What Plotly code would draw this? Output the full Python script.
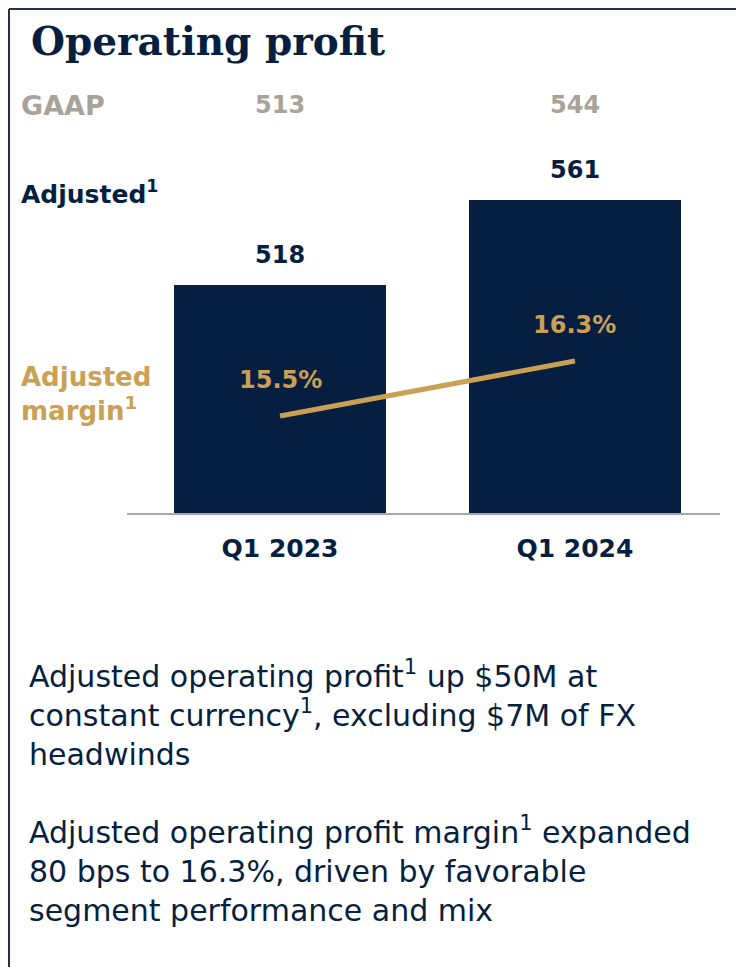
import plotly.graph_objects as go

W, H = 736, 967

categories = ["Q1 2023", "Q1 2024"]
adjusted_op_profit = [518, 561]
gaap_op_profit = [513, 544]
adjusted_margin = [15.5, 16.3]

NAVY = "#061f41"
GOLD = "#c9a054"
GRAY = "#a8a399"
AXIS_GRAY = "#a6a6a6"
BODY_FONT = "DejaVu Sans"

def py(p):
    return 1 - p / H

def px(p):
    return p / W

fig = go.Figure()
fig.add_trace(go.Bar(
    x=categories, y=adjusted_op_profit, marker_color=NAVY, width=0.72,
    marker_line_width=0, yaxis="y", showlegend=False, hoverinfo="skip"))
fig.add_trace(go.Scatter(
    x=categories, y=adjusted_margin, mode="lines", yaxis="y2",
    line=dict(color=GOLD, width=5), showlegend=False, hoverinfo="skip"))

ann = []
for c, v in zip(categories, adjusted_op_profit):
    ann.append(dict(x=c, y=v, xref="x", yref="y", text=f"<b>{v}</b>", showarrow=False,
                    yshift=30, yanchor="middle", font=dict(size=24, color=NAVY, family=BODY_FONT)))
for c, v in zip(categories, gaap_op_profit):
    ann.append(dict(x=c, y=py(105), xref="x", yref="paper", text=f"<b>{v}</b>", showarrow=False,
                    yanchor="middle", font=dict(size=24, color=GRAY, family=BODY_FONT)))
for c, v in zip(categories, adjusted_margin):
    ann.append(dict(x=c, y=v, xref="x", yref="y2", text=f"<b>{v}%</b>", showarrow=False,
                    yshift=36, yanchor="middle", font=dict(size=24, color=GOLD, family=BODY_FONT)))

ann.append(dict(x=px(29), y=py(41), xref="paper", yref="paper", xanchor="left", yanchor="middle",
                text="<b>Operating profit</b>", showarrow=False,
                font=dict(size=39, color=NAVY, family="DejaVu Serif")))
ann.append(dict(x=px(19), y=py(105), xref="paper", yref="paper", xanchor="left", yanchor="middle",
                text="<b>GAAP</b>", showarrow=False, font=dict(size=27, color=GRAY, family=BODY_FONT)))
ann.append(dict(x=px(19), y=py(192), xref="paper", yref="paper", xanchor="left", yanchor="middle",
                text="<b>Adjusted<sup>1</sup></b>", showarrow=False, font=dict(size=25, color=NAVY, family=BODY_FONT)))
ann.append(dict(x=px(19), y=py(394), xref="paper", yref="paper", xanchor="left", yanchor="middle", align="left",
                text="<b>Adjusted<br>margin<sup>1</sup></b>", showarrow=False, font=dict(size=26, color=GOLD, family=BODY_FONT)))

ann.append(dict(x=px(27), y=py(713), xref="paper", yref="paper", xanchor="left", yanchor="middle", align="left",
                text="Adjusted operating profit<sup>1</sup> up $50M at<br>constant currency<sup>1</sup>, excluding $7M of FX<br>headwinds",
                showarrow=False, font=dict(size=30, color=NAVY, family=BODY_FONT)))
ann.append(dict(x=px(27), y=py(869), xref="paper", yref="paper", xanchor="left", yanchor="middle", align="left",
                text="Adjusted operating profit margin<sup>1</sup> expanded<br>80 bps to 16.3%, driven by favorable<br>segment performance and mix",
                showarrow=False, font=dict(size=30, color=NAVY, family=BODY_FONT)))

shapes = [
    dict(type="line", xref="paper", yref="paper", x0=px(9), x1=1, y0=py(9), y1=py(9),
         line=dict(color="#1f3050", width=2)),
    dict(type="line", xref="paper", yref="paper", x0=px(9), x1=px(9), y0=py(9), y1=0,
         line=dict(color="#1f3050", width=2)),
]

fig.update_layout(
    width=W, height=H, margin=dict(l=0, r=0, t=0, b=0),
    paper_bgcolor="white", plot_bgcolor="white",
    xaxis=dict(domain=[px(127), px(720)], range=[-0.519, 1.492], showline=True,
               linecolor=AXIS_GRAY, linewidth=2, showgrid=False, zeroline=False, ticks="",
               tickfont=dict(size=25, color=NAVY, family=BODY_FONT), ticklabelstandoff=12,
               tickvals=categories, ticktext=[f"<b>{c}</b>" for c in categories]),
    yaxis=dict(domain=[py(513), py(150)], range=[402.66, 586.3], visible=False, fixedrange=True),
    yaxis2=dict(domain=[py(513), py(150)], range=[14.089, 19.369], overlaying="y", visible=False),
    annotations=ann, shapes=shapes, bargap=0,
)
fig.write_html("out.html", config=dict(displayModeBar=False),
               post_script="document.body.style.margin='0';document.body.style.overflow='hidden';")
